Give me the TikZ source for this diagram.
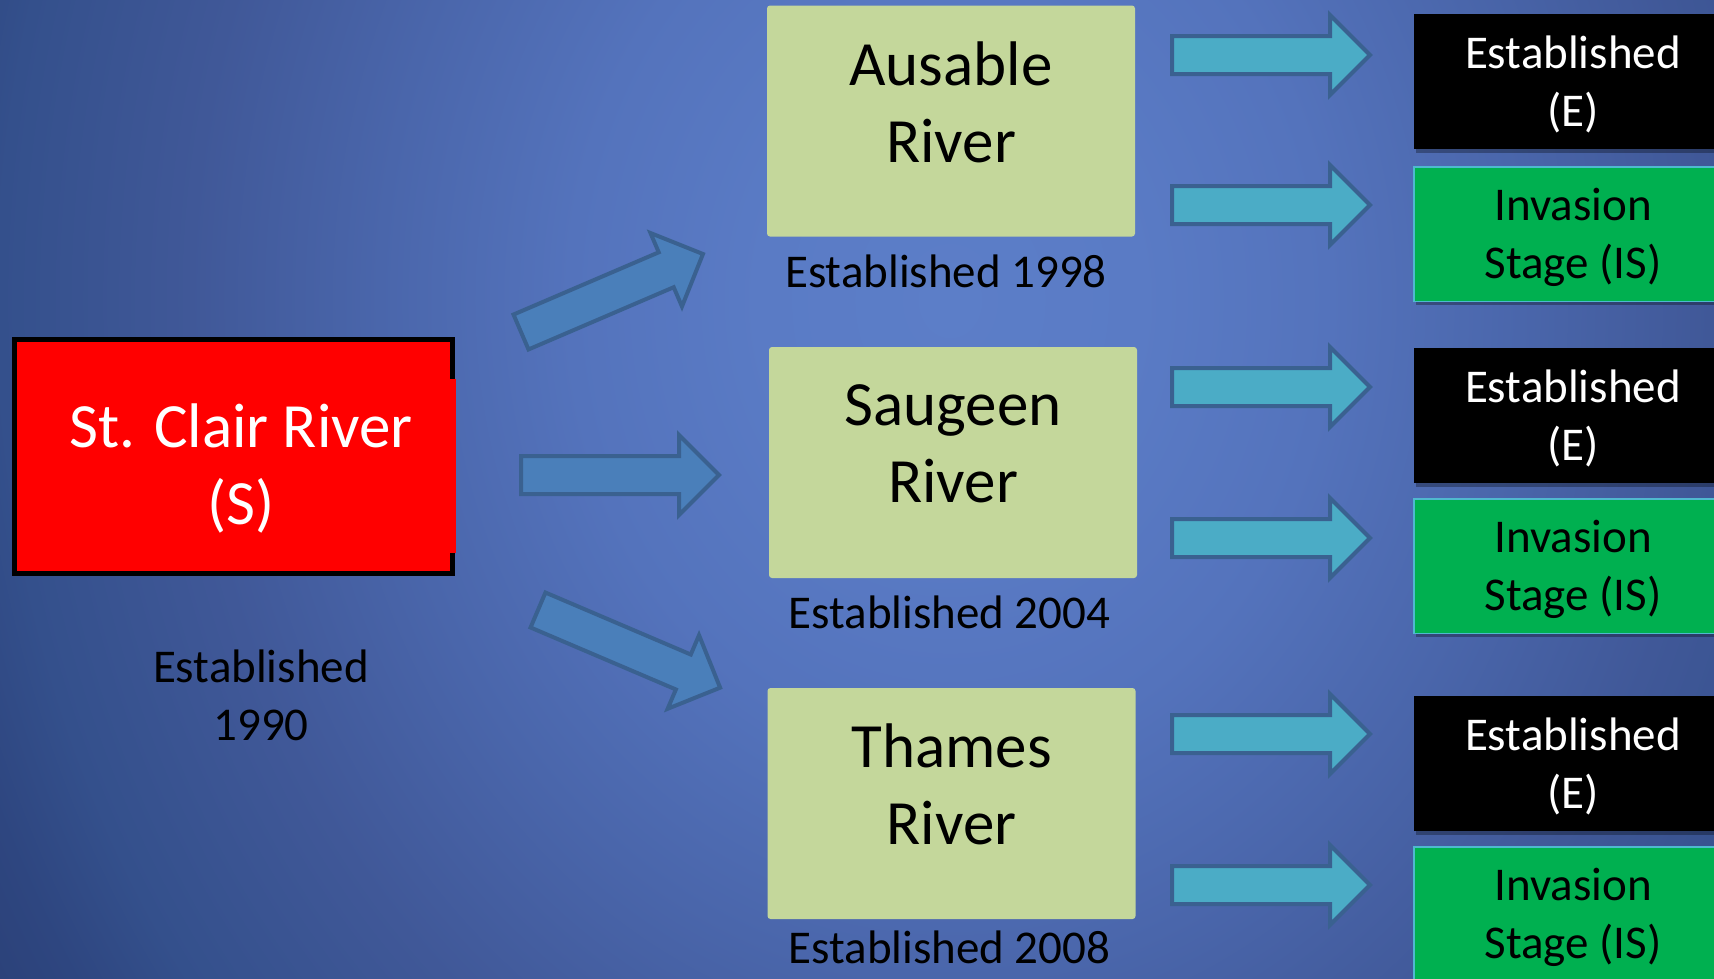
\documentclass[tikz,border=0pt]{standalone}
\usepackage{fontspec}
\setmainfont{Carlito}
\usetikzlibrary{shadows}

% slide background: elliptic gradient, lightest right of the middle near the top
\definecolor{bgA}{HTML}{5C7EC8}
\definecolor{bgB}{HTML}{5A7BC5}
\definecolor{bgC}{HTML}{5473BC}
\definecolor{bgD}{HTML}{4A66AB}
\definecolor{bgE}{HTML}{405898}
\definecolor{bgF}{HTML}{34508C}
\definecolor{bgG}{HTML}{2E4680}
\definecolor{bgH}{HTML}{293D72}
\pgfdeclareradialshading{slidebg}{\pgfpoint{0bp}{0bp}}{%
  color(0bp)=(bgA); color(5bp)=(bgB); color(10bp)=(bgC);
  color(15bp)=(bgD); color(20bp)=(bgE); color(25bp)=(bgF);
  color(27.5bp)=(bgG); color(31.25bp)=(bgH); color(40bp)=(bgH)}

\definecolor{arrowblue}{HTML}{4A7FBA}
\definecolor{arrowcyan}{HTML}{4BACC6}
\definecolor{arrowedge}{HTML}{3A6190}
\definecolor{rivergreen}{HTML}{C4D79B}
\definecolor{invgreen}{HTML}{00B050}
\definecolor{invedge}{HTML}{4FB9CF}
\definecolor{srcred}{HTML}{FF0000}

\begin{document}
\begin{tikzpicture}[x=1pt,y=-1pt,
  every node/.style={inner sep=0pt, outer sep=0pt},
  bigtext/.style={font=\fontsize{63}{77}\selectfont, align=center},
  smalltext/.style={font=\fontsize{47}{58}\selectfont, align=center},
  labeltext/.style={font=\fontsize{47}{58}\selectfont},
  redbox/.style={fill=srcred, draw=black, line width=5pt,
    minimum width=438pt, minimum height=234pt},
  riverbox/.style={fill=rivergreen, rounded corners=3pt,
    minimum width=368pt, minimum height=231pt},
  boxshadow/.style={drop shadow={shadow xshift=2pt, shadow yshift=-4pt,
    opacity=0.3, fill=black}},
  estbox/.style={fill=black, boxshadow,
    minimum width=318pt, minimum height=135pt},
  invbox/.style={fill=invgreen, draw=invedge, line width=1.5pt, boxshadow,
    minimum width=318pt, minimum height=134.5pt},
  esttext/.style={smalltext, text=white},
  invtext/.style={smalltext, text=black},
  blockarrow/.pic={\path[pic actions] (0,-19) -- (158,-19) -- (158,-40)
    -- (198,0) -- (158,40) -- (158,19) -- (0,19) -- cycle;},
  bluearrow/.style={fill=arrowblue, draw=arrowedge, line width=4pt},
  cyanarrow/.style={fill=arrowcyan, draw=arrowedge, line width=4pt},
]
\useasboundingbox (0,0) rectangle (1714,978);
\clip (0,0) rectangle (1714,978);
\shade[shading=slidebg] (0,-830) rectangle (1900,1430);

% source river
\node[redbox] (stclair) at (233.5,456.5) {};
\fill[srcred] (449.5,379) rectangle (455.5,553);
\node[bigtext, text=white] (stclairtext) at (241,468) {St. Clair River\\(S)};
\node[smalltext] (est1990) at (261,695) {Established\\1990};

% arrows to the three downstream rivers
\pic[bluearrow, rotate=23.2] (toaus) at (521,332) {blockarrow};
\pic[bluearrow] (tosau) at (521,475) {blockarrow};
\pic[bluearrow, rotate=-23.1] (totha) at (538,610) {blockarrow};

% downstream rivers
\node[riverbox] (aus) at (951,121) {};
\node[bigtext] (austext) at ([yshift=18.5pt]aus.center) {Ausable\\River};
\node[labeltext, anchor=base] (ausest) at (946,287) {Established 1998};

\node[riverbox] (sau) at (953,462.5) {};
\node[bigtext] (sautext) at ([yshift=18.5pt]sau.center) {Saugeen\\River};
\node[labeltext, anchor=base] (sauest) at (949.5,628) {Established 2004};

\node[riverbox] (tha) at (951.5,803.5) {};
\node[bigtext] (thatext) at ([yshift=19.5pt]tha.center) {Thames\\River};
\node[labeltext, anchor=base] (thaest) at (949.5,963) {Established 2008};

% outcome arrows
\foreach \yy/\nm in {55/a1, 205/a2, 387/a3, 538/a4, 734/a5, 885/a6}
  \pic[cyanarrow] (\nm) at (1172,\yy) {blockarrow};

% outcome boxes
\node[estbox] (ause) at (1573,81.5) {};
\node[esttext] (ausetext) at ([yshift=-3pt]ause.center) {Established\\(E)};
\node[invbox] (ausis) at (1573,234) {};
\node[invtext] (ausistext) at ([yshift=-3pt]ausis.center) {Invasion\\Stage (IS)};
\node[estbox] (saue) at (1573,415) {};
\node[esttext] (sauetext) at ([yshift=-3pt]saue.center) {Established\\(E)};
\node[invbox] (sauis) at (1573,566) {};
\node[invtext] (sauistext) at ([yshift=-3pt]sauis.center) {Invasion\\Stage (IS)};
\node[estbox] (thae) at (1573,763) {};
\node[esttext] (thaetext) at ([yshift=-3pt]thae.center) {Established\\(E)};
\node[invbox] (thais) at (1573,914) {};
\node[invtext] (thaistext) at ([yshift=-3pt]thais.center) {Invasion\\Stage (IS)};
\end{tikzpicture}
\end{document}
